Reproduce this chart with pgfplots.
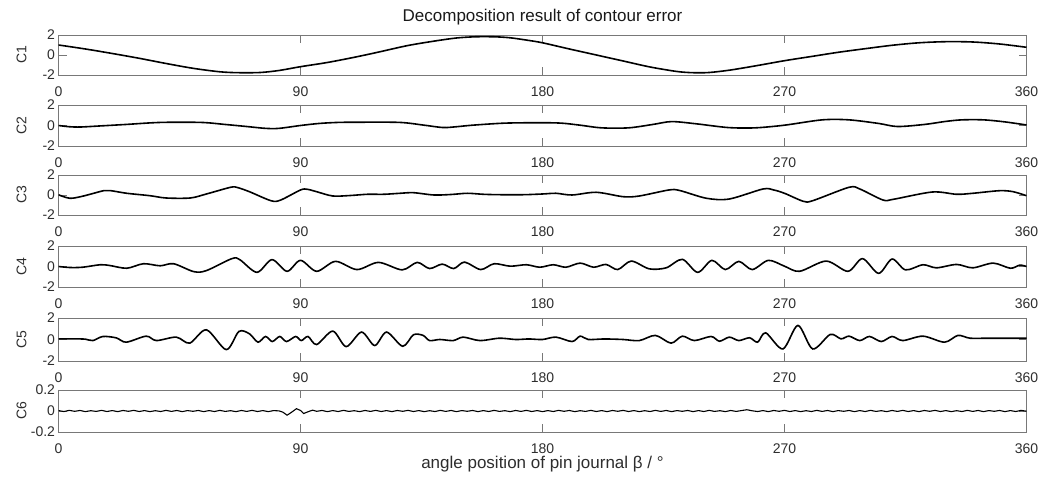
\documentclass[border=0pt]{standalone}
\usepackage{fontspec}
\setmainfont{Liberation Sans}
\usepackage{pgfplots}
\pgfplotsset{compat=1.18}
\definecolor{axgray}{RGB}{120,120,120}
\definecolor{txtgray}{RGB}{45,45,45}
\pgfplotsset{
  panel/.style={
    scale only axis, width=968pt, anchor=south west,
    xmin=0, xmax=360, xtick={0,90,180,270,360}, xticklabels={0,90,180,270,360},
    ymin=-2, ymax=2, ytick={-2,0,2}, yticklabels={-2,0,2},
    tick align=inside, major tick length=8pt,
    axis line style={axgray, line width=0.8pt},
    every tick/.style={axgray, line width=0.8pt},
    tick label style={font=\fontsize{14}{14}\selectfont, text=txtgray},
    xticklabel style={anchor=base, yshift=-22pt},
    ylabel style={font=\fontsize{14}{14}\selectfont, text=txtgray, at={(axis description cs:0,0.5)}, anchor=center, yshift=37pt},
  },
  curve/.style={black, line width=1.6pt, smooth, no marks},
}
\begin{document}
\begin{tikzpicture}
\path (0,0) rectangle (1057pt,481pt);
% C1
\begin{axis}[panel, at={(58.5pt,406pt)}, height=40pt, ylabel={C1},
  title={Decomposition result of contour error},
  title style={font=\fontsize{17}{17}\selectfont, text=black!90, at={(axis description cs:0.5,1)}, anchor=base, yshift=7pt}]
\addplot[curve] coordinates {(0,1.0)(10,0.6)(20,0.15)(30,-0.33)(40,-0.85)(50,-1.33)(60,-1.68)(67,-1.77)(75,-1.75)(82,-1.55)(90,-1.17)(100,-0.75)(110,-0.23)(117,0.17)(120,0.35)(130,0.95)(140,1.4)(148,1.7)(155,1.82)(162,1.82)(168,1.72)(175,1.45)(180,1.22)(190,0.6)(200,0.0)(210,-0.6)(220,-1.2)(230,-1.65)(236,-1.77)(242,-1.75)(250,-1.5)(260,-1.05)(270,-0.57)(280,-0.15)(290,0.27)(300,0.63)(310,0.97)(320,1.22)(330,1.33)(340,1.3)(350,1.1)(360,0.77)};
\end{axis}
% C2
\begin{axis}[panel, at={(58.5pt,335pt)}, height=41pt, ylabel={C2}]
\addplot[curve] coordinates {(0,0.0)(4,-0.12)(8,-0.15)(15,-0.05)(25,0.1)(38,0.3)(53,0.3)(62,0.1)(70,-0.1)(77,-0.28)(82,-0.28)(90,0.0)(97,0.2)(104,0.3)(112,0.32)(127,0.3)(136,0.03)(143,-0.2)(148,-0.12)(154,0.03)(166,0.23)(179,0.27)(187,0.23)(194,0.03)(202,-0.23)(212,-0.23)(221,0.1)(228,0.38)(237,0.17)(249,-0.2)(259,-0.23)(270,0.03)(284,0.55)(294,0.55)(305,0.2)(312,-0.1)(322,0.1)(330,0.4)(336,0.55)(344,0.55)(352,0.35)(360,0.05)};
\end{axis}
% C3
\begin{axis}[panel, at={(58.5pt,266pt)}, height=40pt, ylabel={C3}]
\addplot[curve] coordinates {(0,0.02)(4.3,-0.33)(9.3,-0.1)(16.8,0.43)(19.5,0.43)(25.4,0.17)(34,-0.07)(40,-0.3)(49,-0.3)(55,0.1)(64,0.77)(66.5,0.75)(71,0.33)(79,-0.57)(82.5,-0.52)(90,0.5)(92.5,0.57)(96,0.33)(102,-0.1)(108.6,-0.05)(114.8,0.07)(121,0.07)(127,0.17)(132,0.23)(139.6,0.0)(146,0.05)(152,0.17)(158,0.07)(164,0.03)(173,0.03)(180,0.1)(185,0.17)(191,0.0)(200,0.27)(210,-0.17)(216,-0.1)(227,0.5)(231,0.45)(241,-0.33)(249.5,-0.4)(262,0.6)(266,0.5)(270,0.17)(277,-0.63)(280.5,-0.57)(294,0.77)(298,0.6)(306.6,-0.5)(310.5,-0.43)(325,0.3)(334,0.07)(340,0.17)(350,0.43)(355,0.33)(360,-0.07)};
\end{axis}
% C4
\begin{axis}[panel, at={(58.5pt,194pt)}, height=41pt, ylabel={C4}]
\addplot[curve] coordinates {(0,0)(4.3,-0.1)(9,-0.07)(15.5,0.17)(19,0.1)(25.4,-0.17)(31.6,0.27)(37.8,0.07)(42.8,0.27)(50.3,-0.5)(55,-0.4)(64.5,0.77)(67.5,0.65)(73.8,-0.57)(79.4,0.67)(85,-0.47)(90,0.6)(96,-0.47)(103,0.5)(111,-0.3)(119,0.4)(127.8,-0.33)(133.4,0.4)(138,-0.2)(142.7,0.23)(147,-0.2)(151,0.43)(157,-0.3)(162,0.27)(168,0.03)(174,0.17)(179,-0.07)(184,0.17)(188.7,-0.07)(194,0.33)(199,-0.07)(203.6,0.2)(208,-0.3)(213,0.53)(219.7,-0.23)(226,-0.13)(232,0.7)(237.7,-0.57)(243,0.6)(248,-0.3)(253,0.5)(258,-0.3)(264,0.6)(270,0.03)(275.6,-0.47)(285.5,0.53)(293.6,-0.47)(299,0.77)(305,-0.67)(310,0.73)(315,-0.33)(321.5,0.17)(326.5,-0.13)(334,0.2)(340,-0.13)(347.6,0.33)(354,-0.17)(357.5,0.13)(360,0)};
\end{axis}
% C5
\begin{axis}[panel, at={(58.5pt,120pt)}, height=43pt, ylabel={C5}]
\addplot[curve] coordinates {(0,0.06)(6,0.06)(10,0.03)(12.8,-0.1)(16.5,0.28)(21.5,0.15)(25.2,-0.25)(32.6,0.31)(36.4,-0.1)(43.8,0.22)(48.8,-0.34)(55,0.9)(62.4,-0.94)(67.1,0.75)(71,0.53)(74.2,-0.25)(77,0.28)(79.5,-0.19)(82.3,0.28)(84.8,-0.19)(88.2,0.28)(90.3,-0.1)(92.8,0.28)(96,-0.47)(102,0.78)(107,-0.66)(112.7,0.69)(117.6,-0.56)(122,0.69)(128,-0.63)(132,0.44)(135.6,0.38)(138,-0.1)(141.8,0.0)(146.8,-0.1)(150.5,0.22)(156.7,-0.1)(164,0.12)(170,0.0)(175,0.05)(180,0.0)(185,0.22)(191,-0.19)(194,0.31)(197,0.0)(203,0.05)(210,0.0)(216,-0.1)(222,0.38)(227.8,-0.34)(232,0.31)(236.5,-0.1)(242.7,0.28)(245.8,-0.16)(249.5,0.22)(253,-0.1)(257,0.16)(260,-0.25)(263,0.62)(269.4,-0.88)(275,1.31)(280.5,-0.88)(287,0.47)(291,0.06)(294,0.31)(298,-0.1)(301.6,0.28)(306,-0.19)(310,0.28)(314,-0.1)(321.5,0.31)(329.5,-0.25)(334.5,0.38)(339,0.12)(346,0.12)(360,0.12)};
\end{axis}
% C6
\begin{axis}[panel, at={(58.5pt,49pt)}, height=42pt, ylabel={C6},
  ymin=-0.2, ymax=0.2, ytick={-0.2,0,0.2}, yticklabels={-0.2,0,0.2},
  xlabel={angle position of pin journal β / °},
  xlabel style={font=\fontsize{17}{17}\selectfont, text=txtgray, at={(axis description cs:0.5,0)}, anchor=base, yshift=-36.5pt}]
\addplot[black, line width=1.1pt, no marks] coordinates {(0,0.004)(2,-0.005)(4,0.006)(6,-0.003)(8,0.005)(10,-0.006)(12,0.003)(14,-0.004)(16,0.006)(18,-0.005)(20,0.004)(22,-0.006)(24,0.005)(26,-0.003)(28,0.006)(30,-0.005)(32,0.004)(34,-0.006)(36,0.003)(38,-0.005)(40,0.006)(42,-0.004)(44,0.005)(46,-0.006)(48,0.004)(50,-0.003)(52,0.005)(54,-0.006)(56,0.004)(58,-0.005)(60,0.006)(62,-0.004)(64,0.003)(66,-0.006)(68,0.005)(70,-0.004)(72,0.006)(74,-0.005)(76,0.004)(78,-0.006)(80,0.004)(82,0.001)(83.5,-0.012)(85,-0.04)(86.5,-0.015)(88.5,0.022)(90,0.005)(91.2,-0.024)(92.7,-0.008)(94.5,0.008)(96,-0.003)(98,0.005)(100,-0.006)(102,0.004)(104,-0.005)(106,0.006)(108,-0.004)(110,0.003)(112,-0.006)(114,0.005)(116,-0.004)(118,0.006)(120,-0.005)(122,0.004)(124,-0.006)(126,0.005)(128,-0.003)(130,0.006)(132,-0.005)(134,0.004)(136,-0.006)(138,0.003)(140,-0.005)(142,0.006)(144,-0.004)(146,0.005)(148,-0.006)(150,0.004)(152,-0.003)(154,0.005)(156,-0.006)(158,0.004)(160,-0.005)(162,0.006)(164,-0.004)(166,0.003)(168,-0.006)(170,0.005)(172,-0.004)(174,0.006)(176,-0.005)(178,0.004)(180,-0.006)(182,0.004)(184,-0.005)(186,0.006)(188,-0.003)(190,0.005)(192,-0.006)(194,0.003)(196,-0.004)(198,0.006)(200,-0.005)(202,0.004)(204,-0.006)(206,0.005)(208,-0.003)(210,0.006)(212,-0.005)(214,0.004)(216,-0.006)(218,0.003)(220,-0.005)(222,0.006)(224,-0.004)(226,0.005)(228,-0.006)(230,0.004)(232,-0.003)(234,0.005)(236,-0.006)(238,0.004)(240,-0.005)(242,0.006)(244,-0.004)(246,0.003)(248,-0.006)(250,0.005)(252,-0.004)(254,0.004)(256,0.012)(258,0.002)(260,-0.005)(262,0.004)(264,-0.006)(266,0.005)(268,-0.003)(270,0.006)(272,-0.005)(274,0.004)(276,-0.006)(278,0.003)(280,-0.005)(282,0.006)(284,-0.004)(286,0.005)(288,-0.006)(290,0.004)(292,-0.003)(294,0.005)(296,-0.006)(298,0.004)(300,-0.005)(302,0.006)(304,-0.004)(306,0.003)(308,-0.006)(310,0.005)(312,-0.004)(314,0.006)(316,-0.005)(318,0.004)(320,-0.006)(322,0.005)(324,-0.003)(326,0.006)(328,-0.005)(330,0.004)(332,-0.006)(334,0.003)(336,-0.005)(338,0.006)(340,-0.004)(342,0.005)(344,-0.006)(346,0.004)(348,-0.003)(350,0.005)(352,-0.006)(354,0.004)(356,-0.005)(358,0.006)(360,-0.002)};
\end{axis}
\end{tikzpicture}
\end{document}
